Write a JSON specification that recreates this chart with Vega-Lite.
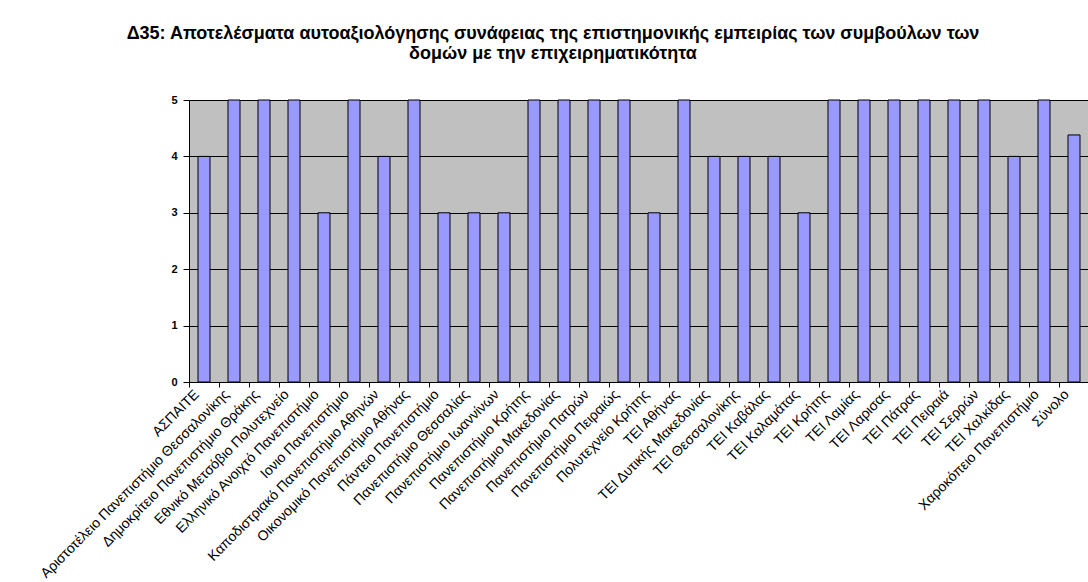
{
  "$schema": "https://vega.github.io/schema/vega-lite/v6.json",
  "autosize": "none",
  "width": 900,
  "height": 282,
  "padding": {"left": 189, "top": 100, "right": 0, "bottom": 200},
  "background": "white",
  "title": {
    "text": ["Δ35: Αποτελέσματα αυτοαξιολόγησης συνάφειας της επιστημονικής εμπειρίας των συμβούλων των", "δομών με την επιχειρηματικότητα"],
    "font": "Liberation Sans",
    "fontSize": 18,
    "fontWeight": "bold",
    "color": "black",
    "anchor": "middle",
    "frame": "group",
    "dx": -86,
    "offset": 31,
    "lineHeight": 20
  },
  "data": {
    "values": [
      {"name": "ΑΣΠΑΙΤΕ", "value": 4},
      {"name": "Αριστοτέλειο Πανεπιστήμιο Θεσσαλονίκης", "value": 5},
      {"name": "Δημοκρίτειο Πανεπιστήμιο Θράκης", "value": 5},
      {"name": "Εθνικό Μετσόβιο Πολυτεχνείο", "value": 5},
      {"name": "Ελληνικό Ανοιχτό Πανεπιστήμιο", "value": 3},
      {"name": "Ιονιο Πανεπιστήμιο", "value": 5},
      {"name": "Καποδιστριακό Πανεπιστήμιο Αθηνών", "value": 4},
      {"name": "Οικονομικό Πανεπιστήμιο Αθήνας", "value": 5},
      {"name": "Πάντειο Πανεπιστήμιο", "value": 3},
      {"name": "Πανεπιστήμιο Θεσσαλίας", "value": 3},
      {"name": "Πανεπιστήμιο Ιωαννίνων", "value": 3},
      {"name": "Πανεπιστήμιο Κρήτης", "value": 5},
      {"name": "Πανεπιστήμιο Μακεδονίας", "value": 5},
      {"name": "Πανεπιστήμιο Πατρών", "value": 5},
      {"name": "Πανεπιστήμιο Πειραιώς", "value": 5},
      {"name": "Πολυτεχνείο Κρήτης", "value": 3},
      {"name": "ΤΕΙ Αθήνας", "value": 5},
      {"name": "ΤΕΙ Δυτικής Μακεδονίας", "value": 4},
      {"name": "ΤΕΙ Θεσσαλονίκης", "value": 4},
      {"name": "ΤΕΙ Καβάλας", "value": 4},
      {"name": "ΤΕΙ Καλαμάτας", "value": 3},
      {"name": "ΤΕΙ Κρήτης", "value": 5},
      {"name": "ΤΕΙ Λαμίας", "value": 5},
      {"name": "ΤΕΙ Λαρισας", "value": 5},
      {"name": "ΤΕΙ Πάτρας", "value": 5},
      {"name": "ΤΕΙ Πειραιά", "value": 5},
      {"name": "ΤΕΙ Σερρών", "value": 5},
      {"name": "ΤΕΙ Χαλκίδας", "value": 4},
      {"name": "Χαροκόπειο Πανεπιστήμιο", "value": 5},
      {"name": "Σύνολο", "value": 4.38}
    ]
  },
  "mark": {"type": "bar", "width": {"band": 0.4}, "fill": "#9999FF", "stroke": "black", "strokeWidth": 1},
  "encoding": {
    "x": {
      "field": "name",
      "type": "nominal",
      "sort": null,
      "scale": {"paddingInner": 0, "paddingOuter": 0},
      "axis": {
        "title": null,
        "labelAngle": -45,
        "labelAlign": "right",
        "labelBaseline": "middle",
        "bandPosition": 0,
        "tickSize": 5,
        "labelPadding": 5,
        "labelOffset": -7,
        "labelFont": "Liberation Sans",
        "labelFontSize": 14,
        "labelColor": "black",
        "labelLimit": 400,
        "labelOverlap": false,
        "domainColor": "black",
        "tickColor": "black",
        "grid": false
      }
    },
    "y": {
      "field": "value",
      "type": "quantitative",
      "scale": {"domain": [0, 5], "nice": false},
      "axis": {
        "title": null,
        "values": [0, 1, 2, 3, 4, 5],
        "labelFont": "Liberation Sans",
        "labelFontSize": 11,
        "labelFontWeight": "bold",
        "labelColor": "black",
        "tickSize": 6,
        "labelPadding": 6,
        "domainColor": "black",
        "tickColor": "black",
        "grid": true,
        "gridColor": "black",
        "gridOpacity": 1
      }
    }
  },
  "config": {
    "view": {"fill": "#C0C0C0", "stroke": "#808080", "strokeWidth": 1}
  }
}
